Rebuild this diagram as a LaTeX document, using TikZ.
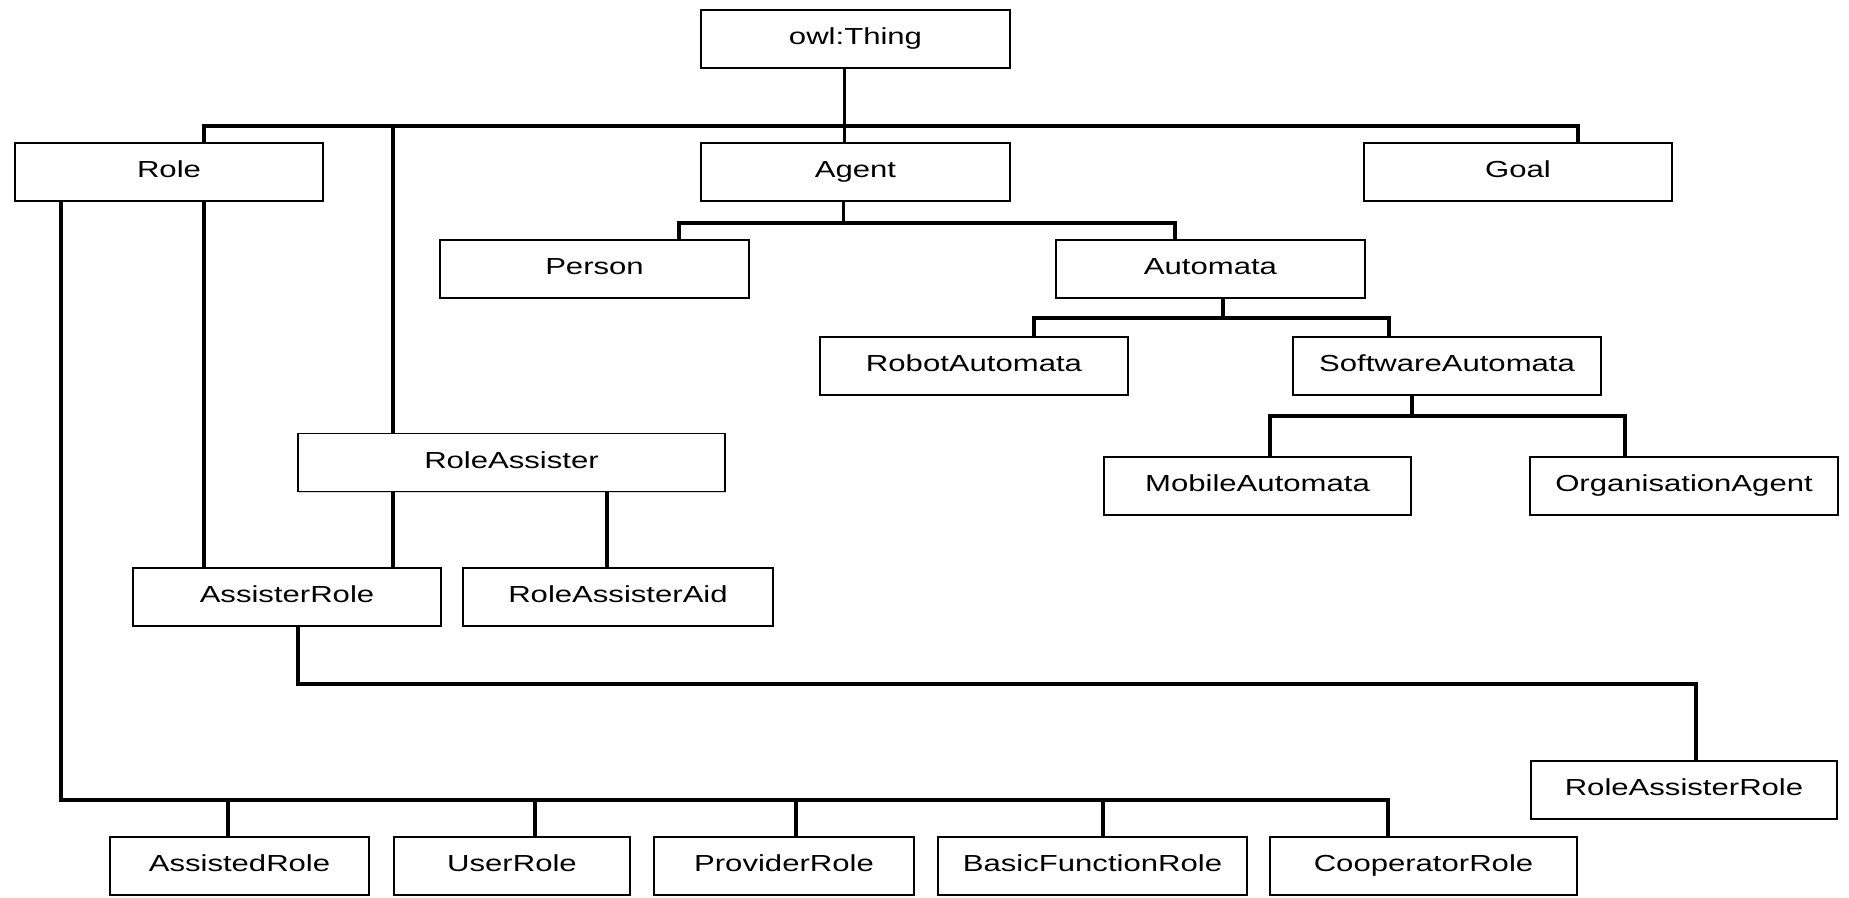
\documentclass[tikz,border=0pt]{standalone}
\usepackage{fontspec}
\setmainfont{Liberation Sans}[FakeStretch=1.34]
\usetikzlibrary{shadows}

\tikzset{
  cls/.style={draw, line width=0.8pt, fill=white, inner sep=0pt,
    minimum width=#1, minimum height=29pt,
    text height=8.4pt, text depth=2.5pt,
    font=\fontsize{11.6}{13}\selectfont,
    drop shadow={shadow xshift=0.5pt, shadow yshift=-0.7pt, opacity=0.3}},
  cls/.default=154pt,
  link/.style={draw=black, line width=1.8pt},
}

\begin{document}
\begin{tikzpicture}[x=0.5pt, y=-0.5pt]
  \useasboundingbox (0,0) rectangle (1849,898);
  % classes
  \node[cls=154.5pt] (thing) at (855.5,39) {owl:Thing};
  \node[cls] (role) at (169,172) {Role};
  \node[cls=154.5pt] (agent) at (855.5,172) {Agent};
  \node[cls] (goal) at (1518,172) {Goal};
  \node[cls=154.5pt] (person) at (594.5,269) {Person};
  \node[cls=154.5pt] (automata) at (1210.5,269) {Automata};
  \node[cls] (robot) at (974,366) {RobotAutomata};
  \node[cls] (software) at (1447,366) {SoftwareAutomata};
  \node[cls=153.5pt] (mobile) at (1257.5,486) {MobileAutomata};
  \node[cls] (organ) at (1684,486) {OrganisationAgent};
  \node[cls=213.5pt] (rassist) at (511.5,462.5) {RoleAssister};
  \node[cls] (assister) at (287,597) {AssisterRole};
  \node[cls=155pt] (raid) at (618,597) {RoleAssisterAid};
  \node[cls=153pt] (rarole) at (1684,790) {RoleAssisterRole};
  \node[cls=129.5pt] (assisted) at (239.5,866) {AssistedRole};
  \node[cls=118pt] (user) at (512,866) {UserRole};
  \node[cls=130pt] (provider) at (784,866) {ProviderRole};
  \node[cls=154.5pt] (basic) at (1092.5,866) {BasicFunctionRole};
  \node[cls=153.5pt] (cooper) at (1423.5,866) {CooperatorRole};

  % owl:Thing
  \draw[link] (thing.south) ++(-11,0) -- ++(0,57) coordinate (j0) -- (agent.north -| j0);
  \draw[link] (role.north) ++(35,0) |- (j0);
  \draw[link] (goal.north) ++(60,0) |- (j0);
  \draw[link] (rassist.north) ++(-118.5,0) |- (j0);

  % Agent
  \draw[link] (agent.south) ++(-12,0) -- ++(0,21) coordinate (j1);
  \draw[link] (person.north) ++(84.5,0) |- (j1);
  \draw[link] (automata.north) ++(-35.5,0) |- (j1);

  % Automata
  \draw[link] (automata.south) ++(12.5,0) -- ++(0,19) coordinate (j2);
  \draw[link] (robot.north) ++(60,0) |- (j2);
  \draw[link] (software.north) ++(-58,0) |- (j2);

  % SoftwareAutomata
  \draw[link] (software.south) ++(-35,0) -- ++(0,20) coordinate (j3);
  \draw[link] (mobile.north) ++(12.5,0) |- (j3);
  \draw[link] (organ.north) ++(-59,0) |- (j3);

  % RoleAssister
  \draw[link] (rassist.south) ++(-118.5,0) coordinate (ra1) -- (ra1 |- assister.north);
  \draw[link] (rassist.south) ++(95.5,0) coordinate (ra2) -- (ra2 |- raid.north);

  % Role
  \draw[link] (assister.north) ++(-83,0) coordinate (a1) -- (a1 |- role.south);
  \draw[link] (role.south) ++(-108,0) -- ++(0,598) coordinate (j4)
    -| ([xshift=-17.75pt]cooper.north);
  \draw[link] (assisted.north) ++(-11.5,0) |- (j4);
  \draw[link] (user.north) ++(23,0) |- (j4);
  \draw[link] (provider.north) ++(12,0) |- (j4);
  \draw[link] (basic.north) ++(10.5,0) |- (j4);

  % AssisterRole
  \draw[link] (assister.south) ++(11,0) -- ++(0,57) coordinate (j5)
    -| ([xshift=6pt]rarole.north);
\end{tikzpicture}
\end{document}
